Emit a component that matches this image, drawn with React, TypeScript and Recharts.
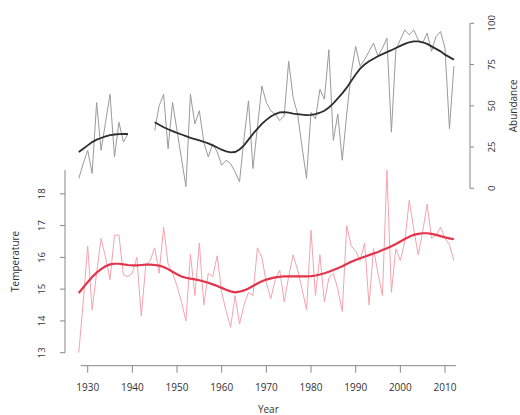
import { LineChart, Line, XAxis, YAxis, Label } from 'recharts';

const years = [
  1928, 1929, 1930, 1931, 1932, 1933, 1934, 1935, 1936, 1937, 1938, 1939,
  1940, 1941, 1942, 1943, 1944, 1945, 1946, 1947, 1948, 1949, 1950, 1951,
  1952, 1953, 1954, 1955, 1956, 1957, 1958, 1959, 1960, 1961, 1962, 1963,
  1964, 1965, 1966, 1967, 1968, 1969, 1970, 1971, 1972, 1973, 1974, 1975,
  1976, 1977, 1978, 1979, 1980, 1981, 1982, 1983, 1984, 1985, 1986, 1987,
  1988, 1989, 1990, 1991, 1992, 1993, 1994, 1995, 1996, 1997, 1998, 1999,
  2000, 2001, 2002, 2003, 2004, 2005, 2006, 2007, 2008, 2009, 2010, 2011, 2012,
];

const temperature = [
  13.0, 14.6, 16.35, 14.35, 15.5, 16.6, 16.0, 15.3, 16.7, 16.7, 15.45, 15.4,
  15.5, 16.0, 14.15, 15.75, 15.9, 16.3, 15.5, 16.95, 15.8, 15.5, 15.1, 14.6,
  14.0, 16.1, 14.8, 16.45, 14.5, 15.5, 15.4, 16.05, 14.9, 14.3, 13.8, 14.8,
  13.9, 14.5, 14.9, 14.8, 16.3, 16.0, 15.2, 14.7, 15.3, 15.6, 14.6, 15.4,
  16.08, 15.6, 15.0, 14.35, 16.86, 14.8, 16.08, 14.6, 15.35, 15.5, 15.0, 14.3,
  17.0, 16.36, 16.2, 15.9, 16.45, 14.5, 16.27, 15.5, 14.8, 18.75, 14.9, 16.27,
  15.9, 16.5, 17.8, 16.9, 16.08, 16.8, 17.68, 16.6, 16.7, 16.95, 16.6, 16.4, 15.9,
];

const temperatureTrend = [
  14.88, 15.05, 15.22, 15.38, 15.52, 15.63, 15.72, 15.78, 15.8, 15.8, 15.78, 15.76,
  15.75, 15.75, 15.76, 15.77, 15.77, 15.76, 15.74, 15.7, 15.63, 15.55, 15.47, 15.4,
  15.36, 15.33, 15.31, 15.28, 15.24, 15.2, 15.15, 15.1, 15.04, 14.98, 14.93, 14.9,
  14.92, 14.96, 15.02, 15.1, 15.18, 15.25, 15.3, 15.34, 15.37, 15.39, 15.4, 15.4,
  15.4, 15.4, 15.4, 15.4, 15.41, 15.43, 15.46, 15.5, 15.55, 15.6, 15.66, 15.72,
  15.79, 15.86, 15.92, 15.97, 16.02, 16.07, 16.12, 16.17, 16.23, 16.29, 16.35, 16.42,
  16.5, 16.58, 16.65, 16.71, 16.74, 16.76, 16.76, 16.74, 16.71, 16.67, 16.63, 16.6, 16.57,
];

const abundance = [
  6, 15, 23, 9, 52, 23, 40, 57, 19, 40, 28, 33,
  null, null, null, null, null, 35, 50, 57, 24, 52, 35, 18,
  1, 57, 39, 47, 28, 19, 27, 22, 14, 17, 15, 10,
  4, 30, 53, 12, 37, 62, 52, 47, 45, 41, 44, 77,
  55, 45, 25, 6, 46, 42, 60, 54, 84, 29, 45, 17,
  45, 70, 86, 74, 78, 83, 88, 80, 85, 91, 34, 84,
  90, 96, 93, 96, 90, 88, 94, 83, 92, 95, 85, 36, 74,
];

const abundanceTrend = [
  22, 24, 26, 28, 29.5, 30.5, 31.5, 32.2, 32.6, 32.8, 32.9, 32.9,
  null, null, null, null, null, 40, 38.5, 37, 35.8, 34.7, 33.6, 32.6,
  31.6, 30.6, 29.8, 29, 28.2, 27.2, 26, 24.7, 23.4, 22.4, 21.8, 22,
  23.5, 26, 29.5, 33, 36, 39, 41.5, 43.5, 45, 46, 46.2, 45.8,
  45.3, 45, 44.6, 44.4, 44.5, 45, 45.8, 47, 49, 51.5, 54.5, 57.5,
  61, 65, 69, 72.5, 75, 77, 78.5, 80, 81.3, 82.5, 83.7, 85,
  86.3, 87.5, 88.5, 89, 89, 88.5, 87.5, 86, 84.5, 83, 81, 79.5, 78,
];

const yearTicks = [1930, 1940, 1950, 1960, 1970, 1980, 1990, 2000, 2010];
const temperatureTicks = [13, 14, 15, 16, 17, 18];
const abundanceTicks = [0, 25, 50, 75, 100];

const data = years.map((year, i) => ({
  year,
  temperature: temperature[i],
  temperatureTrend: temperatureTrend[i],
  abundance: abundance[i],
  abundanceTrend: abundanceTrend[i],
}));

const FONT = '"Open Sans", sans-serif';
const TEXT = '#333';
const AXIS = '#888';
const W = 520;
const H = 415;
// the two panels share one x scale, spanning from the left axis line to the right one
const panelDomain = [1924.92, 2015.6];

const layer: React.CSSProperties = { position: 'absolute', left: 0, top: 0 };

function VerticalTick(props: any) {
  const { x, y, payload, shift } = props;
  const cx = x + shift;
  return (
    <text
      x={cx}
      y={y}
      transform={`rotate(-90, ${cx}, ${y})`}
      textAnchor="middle"
      dominantBaseline="central"
      fontSize={9.5}
      fontFamily={FONT}
      fill={TEXT}
    >
      {payload.value}
    </text>
  );
}

export default function App() {
  return (
    <div style={{ position: 'absolute', left: 0, top: 0, width: W, height: H, background: '#fff' }}>
      {/* abundance panel */}
      <div style={layer}>
        <LineChart width={W} height={H} data={data} margin={{ top: 23.3, right: 5, bottom: 226.7, left: 65 }}>
          <XAxis dataKey="year" type="number" domain={panelDomain} allowDataOverflow hide />
          <YAxis
            orientation="right"
            width={45}
            domain={[0, 100]}
            ticks={abundanceTicks}
            stroke={AXIS}
            tickSize={4}
            tickMargin={2}
            tick={<VerticalTick shift={16} />}
          >
            <Label
              value="Abundance"
              angle={-90}
              position="right"
              offset={-2}
              style={{ fontSize: 10, fontFamily: FONT, fill: TEXT, textAnchor: 'middle' }}
            />
          </YAxis>
          <Line dataKey="abundance" stroke="#9a9a9a" strokeWidth={1} dot={false} isAnimationActive={false} />
          <Line dataKey="abundanceTrend" stroke="#2e2e2e" strokeWidth={1.8} dot={false} isAnimationActive={false} />
        </LineChart>
      </div>

      {/* temperature panel */}
      <div style={layer}>
        <LineChart width={W} height={H} data={data} margin={{ top: 170, right: 50, bottom: 62.3, left: 20 }}>
          <XAxis dataKey="year" type="number" domain={panelDomain} allowDataOverflow hide />
          <YAxis
            width={45}
            domain={[13, 18]}
            ticks={temperatureTicks}
            stroke={AXIS}
            tickSize={5}
            tickMargin={2}
            tick={<VerticalTick shift={-16} />}
          >
            <Label
              value="Temperature"
              angle={-90}
              position="left"
              offset={5}
              style={{ fontSize: 10, fontFamily: FONT, fill: TEXT, textAnchor: 'middle' }}
            />
          </YAxis>
          <Line dataKey="temperature" stroke="#f5a3ad" strokeWidth={1} dot={false} isAnimationActive={false} />
          <Line dataKey="temperatureTrend" stroke="#e2344b" strokeWidth={2.2} dot={false} isAnimationActive={false} />
        </LineChart>
      </div>

      {/* year axis */}
      <div style={layer}>
        <LineChart width={W} height={H} data={data} margin={{ top: 300, right: 64, bottom: 9.3, left: 80.7 }}>
          <XAxis
            dataKey="year"
            type="number"
            domain={[1928.43, 2012.46]}
            allowDataOverflow
            ticks={yearTicks}
            height={40}
            stroke={AXIS}
            tickSize={7}
            tickMargin={11}
            tick={{ fontSize: 10, fontFamily: FONT, fill: TEXT }}
          >
            <Label
              value="Year"
              position="bottom"
              offset={0}
              style={{ fontSize: 10, fontFamily: FONT, fill: TEXT }}
            />
          </XAxis>
          <YAxis hide domain={[13, 18]} />
        </LineChart>
      </div>
    </div>
  );
}
